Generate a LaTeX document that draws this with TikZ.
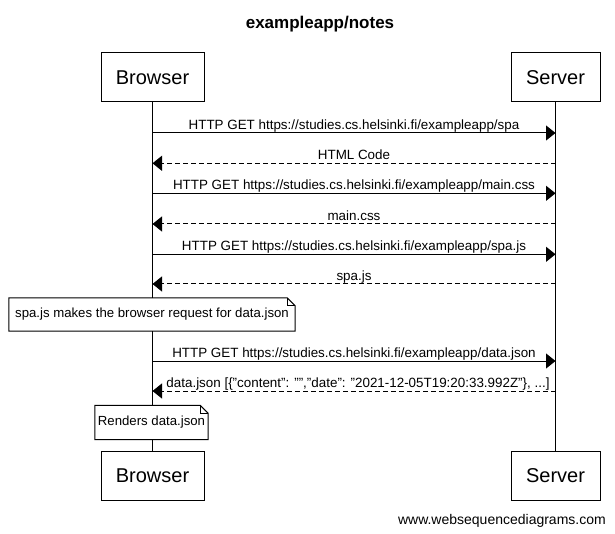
\documentclass[tikz,border=0pt]{standalone}
\usepackage{fontspec}
\setmainfont{Liberation Sans}
\usetikzlibrary{arrows.meta}
\tikzset{
  actor/.style={draw, line width=1pt, fill=white, minimum height=49pt, inner sep=0pt, font=\fontsize{20}{24}\selectfont},
  lifeline/.style={line width=1pt},
  msg/.style={line width=1pt, -{Triangle[length=9.5pt,width=15pt]}},
  reply/.style={msg, dash pattern=on 5pt off 3pt},
  lbl/.style={font=\fontsize{13.4}{15}\selectfont, anchor=base, yshift=3.5pt, inner sep=0pt},
  notebox/.style={font=\fontsize{13.2}{15}\selectfont, fill=white, inner sep=0pt},
  noteline/.style={line width=1pt},
  foldline/.style={line width=0.8pt}
}
\begin{document}
\begin{tikzpicture}[x=1pt,y=-1pt]
\useasboundingbox (0,0) rectangle (615,534);
\fill[white] (0,0) rectangle (615,534);
\node[font=\bfseries\fontsize{17}{20}\selectfont, anchor=base] (title) at (320,29) {exampleapp/notes};
\node[actor, minimum width=103pt] (bt) at (152.5,77.5) {Browser};
\node[actor, minimum width=89pt] (st) at (555.5,77.5) {Server};
\node[actor, minimum width=103pt] (bb) at (152.5,475.5) {Browser};
\node[actor, minimum width=89pt] (sb) at (555.5,475.5) {Server};
\draw[lifeline] (bt.south) -- (bb.north);
\draw[lifeline] (st.south) -- (sb.north);
\foreach \n/\y in {1/133,2/163.3,3/193.3,4/224,5/254.3,6/284,7/361,8/391}{
  \coordinate (b\n) at (152.5,\y);
  \coordinate (s\n) at (555.5,\y);
}
\draw[msg] (b1) -- node[lbl] {HTTP GET https://studies.cs.helsinki.fi/exampleapp/spa} (s1);
\draw[reply] (s2) -- node[lbl] {HTML Code} (b2);
\draw[msg] (b3) -- node[lbl] {HTTP GET https://studies.cs.helsinki.fi/exampleapp/main.css} (s3);
\draw[reply] (s4) -- node[lbl] {main.css} (b4);
\draw[msg] (b5) -- node[lbl] {HTTP GET https://studies.cs.helsinki.fi/exampleapp/spa.js} (s5);
\draw[reply] (s6) -- node[lbl] {spa.js} (b6);
\node[notebox, minimum width=286pt, minimum height=33pt] (n1) at (152,314.5) {spa.js makes the browser request for data.json};
\draw[noteline] (n1.north west) -- ([xshift=-8pt]n1.north east) -- ([yshift=-8pt]n1.north east) -- (n1.south east) -- (n1.south west) -- cycle;
\draw[foldline] ([xshift=-8pt]n1.north east) |- ([yshift=-8pt]n1.north east);
\draw[msg] (b7) -- node[lbl] {HTTP GET https://studies.cs.helsinki.fi/exampleapp/data.json} (s7);
\draw[reply] (s8) -- node[lbl, xshift=4pt] {data.json [\{"content": "","date": "2021-12-05T19:20:33.992Z"\}, ...]} (b8);
\node[notebox, minimum width=113pt, minimum height=34pt] (n2) at (151.5,422.5) {Renders data.json};
\draw[noteline] (n2.north west) -- ([xshift=-8pt]n2.north east) -- ([yshift=-8pt]n2.north east) -- (n2.south east) -- (n2.south west) -- cycle;
\draw[foldline] ([xshift=-8pt]n2.north east) |- ([yshift=-8pt]n2.north east);
\node[font=\fontsize{14}{16}\selectfont, anchor=base east, inner sep=0pt] (wsd) at (606,524) {www.websequencediagrams.com};
\end{tikzpicture}
\end{document}
